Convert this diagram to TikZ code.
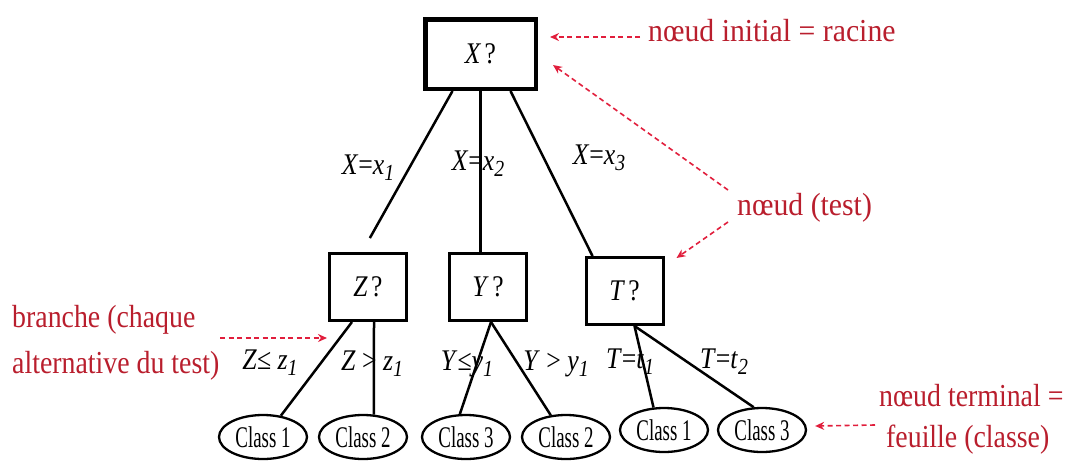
\documentclass[tikz,border=0pt]{standalone}
\usepackage{fontspec}
\usepackage{graphicx}
\setmainfont{Liberation Serif}
\usetikzlibrary{shapes.geometric,arrows.meta,calc}
\definecolor{txtred}{RGB}{185,30,45}
\definecolor{arrred}{RGB}{225,30,60}
\newcommand\lsub[1]{\raisebox{-0.45ex}{\fontsize{23}{23}\selectfont\itshape #1}}
\newcommand\hsq[2]{\scalebox{#1}[1]{#2}}
\begin{document}
\begin{tikzpicture}[x=1pt,y=-1pt,
 testbox/.style={draw,line width=3pt,minimum width=77pt,minimum height=67pt,inner sep=0pt,font=\fontsize{30}{32}\selectfont},
 leaf/.style={draw,ellipse,line width=2.3pt,minimum width=88pt,minimum height=44pt,inner sep=0pt,font=\fontsize{30}{32}\selectfont},
 branch/.style={line width=2.5pt},
 lbl/.style={inner sep=0pt,font=\fontsize{30}{32}\selectfont},
 note/.style={inner sep=0pt,anchor=west,text=txtred,font=\fontsize{32}{34}\selectfont},
 pointer/.style={draw=arrred,line width=1.6pt,dash pattern=on 5pt off 3.5pt,-{Stealth[length=9pt,width=8pt]}}]
\useasboundingbox (0,0) rectangle (1072,464);

% test nodes
\node[testbox,line width=4.5pt,minimum width=110.5pt,minimum height=69.5pt] (X) at (480.5,54) {\hsq{0.85}{\textit{X}\hspace{4pt}?}};
\node[testbox] (Z) at (368,287) {\hsq{0.85}{\textit{Z}\hspace{4pt}?}};
\node[testbox] (Y) at (488,287) {\hsq{0.85}{\textit{Y}\hspace{4pt}?}};
\node[testbox] (T) at (624.5,291) {\hsq{0.85}{\textit{T}\hspace{4pt}?}};
% thicker lower edges
\draw[line width=2.5pt] ($(X.south west)+(2,-1.5)$) -- ($(X.south east)+(-2,-1.5)$);
\draw[line width=2pt] ($(Z.south west)+(1.5,-1.5)$) -- ($(Z.south east)+(-1.5,-1.5)$);
\draw[line width=2pt] ($(Y.south west)+(1.5,-1.5)$) -- ($(Y.south east)+(-1.5,-1.5)$);
\draw[line width=2pt] ($(T.south west)+(1.5,-1.5)$) -- ($(T.south east)+(-1.5,-1.5)$);

% leaves
\node[leaf] (c1) at (263,437) {\hsq{0.63}{Class 1}};
\node[leaf] (c2) at (363,437) {\hsq{0.63}{Class 2}};
\node[leaf] (c3) at (466,437) {\hsq{0.63}{Class 3}};
\node[leaf] (c4) at (566,437) {\hsq{0.63}{Class 2}};
\node[leaf] (c5) at (664,430) {\hsq{0.63}{Class 1}};
\node[leaf] (c6) at (762,430) {\hsq{0.63}{Class 3}};

% branches
\draw[branch,shorten >=16pt] ($(X.south)+(-28,0)$) -- ($(Z.north)+(-6,0)$);
\draw[branch] (X.south) -- (X.south |- Y.north);
\draw[branch] ($(X.south)+(30,0)$) -- ($(T.north west)+(8,0)$);
\draw[branch] ($(Z.south)+(-16,0)$) -- (c1.50);
\draw[branch] ($(Z.south)+(6,0)$) -- (c2.64);
\draw[branch] ($(Y.south)+(3,0)$) -- (c3.105);
\draw[branch] ($(Y.south)+(3,0)$) -- (c4.125);
\draw[branch] ($(T.south)+(10,0)$) -- (c5.115);
\draw[branch] ($(T.south)+(10,0)$) -- (c6.110);

% branch labels
\node[lbl] (lx1) at (368,168) {\hsq{0.86}{\textit{X}=\textit{x}\lsub{1}}};
\node[lbl] (lx2) at (478,164) {\hsq{0.86}{\textit{X}=\textit{x}\lsub{2}}};
\node[lbl] (lx3) at (599,158) {\hsq{0.86}{\textit{X}=\textit{x}\lsub{3}}};
\node[lbl] (lz1) at (270,363) {\hsq{0.86}{\textit{Z}≤ \textit{z}\lsub{1}}};
\node[lbl] (lz2) at (372,364) {\hsq{0.86}{\textit{Z} > \textit{z}\lsub{1}}};
\node[lbl] (ly1) at (467,364) {\hsq{0.86}{\textit{Y}≤\textit{y}\lsub{1}}};
\node[lbl] (ly2) at (556,364) {\hsq{0.86}{\textit{Y} > \textit{y}\lsub{1}}};
\node[lbl] (lt1) at (630,362) {\hsq{0.86}{\textit{T}=\textit{t}\lsub{1}}};
\node[lbl] (lt2) at (724,362) {\hsq{0.86}{\textit{T}=\textit{t}\lsub{2}}};

% annotations
\node[note] (n1) at (648,31) {\hsq{0.93}{nœud initial = racine}};
\node[note] (n2) at (737,208) {\hsq{0.93}{nœud (test)}};
\node[note] (n3) at (12,320) {\hsq{0.87}{branche (chaque}};
\node[note] (n3b) at (12,366) {\hsq{0.87}{alternative du test)}};
\node[note] (n4) at (879,396) {\hsq{0.87}{nœud terminal =}};
\node[note] (n4b) at (886,440) {\hsq{0.87}{feuille (classe)}};

\draw[pointer] ($(n1.west)+(-8,6)$) -- ($(X.east)+(12,-17)$);
\draw[pointer] ($(n2.west)+(-9,-18)$) -- ($(X.east)+(15,11)$);
\draw[pointer] ($(n2.west)+(-9,14)$) -- ($(T.north east)+(12,2)$);
\draw[pointer] ($(n3.west)+(208,18)$) -- ($(Z.south west)+(-1,16)$);
\draw[pointer] ($(n4b.west)+(-11,-15)$) -- ($(c6.east)+(8,-4)$);
\end{tikzpicture}
\end{document}
